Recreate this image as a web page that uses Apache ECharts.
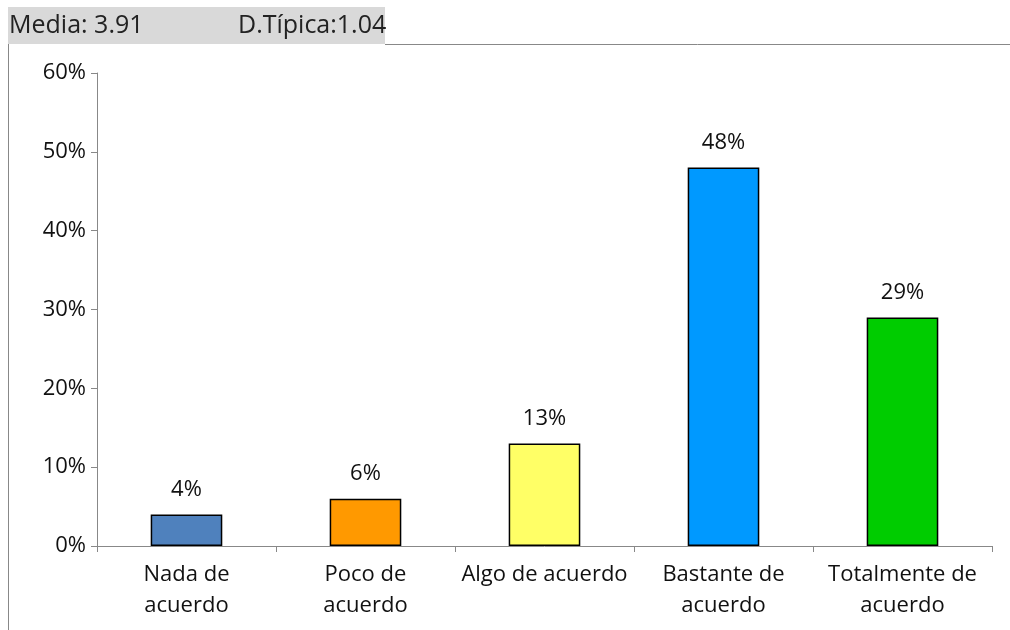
<!DOCTYPE html>
<html>
<head>
<meta charset="utf-8">
<script src="https://cdn.jsdelivr.net/npm/echarts@6/dist/echarts.min.js"></script>
<style>
  html, body { margin: 0; padding: 0; background: #fff; }
  #chart { width: 1010px; height: 630px; }
</style>
</head>
<body>
<div id="chart"></div>
<script>
// Response distribution for the agreement scale
const categories = ['Nada de\nacuerdo', 'Poco de\nacuerdo', 'Algo de acuerdo', 'Bastante de\nacuerdo', 'Totalmente de\nacuerdo'];
const percentages = [4, 6, 13, 48, 29];
const barColors = ['#4f81bd', '#ff9900', '#ffff66', '#0099ff', '#00cc00'];
const headerMean = 'Media: 3.91';
const headerSd = 'D.Típica:1.04';

const FONT = '"Open Sans", Lato, sans-serif';

const chart = echarts.init(document.getElementById('chart'), null, { renderer: 'canvas' });
chart.setOption({
  animation: false,
  backgroundColor: '#ffffff',
  textStyle: { fontFamily: FONT },
  graphic: [
    { type: 'rect', shape: { x: 8, y: 7, width: 377, height: 37 }, style: { fill: '#d9d9d9' }, silent: true },
    { type: 'text', x: 9, y: 26, style: { text: headerMean, font: '25px ' + FONT, fill: '#222', textVerticalAlign: 'middle' } },
    { type: 'text', x: 238, y: 26, style: { text: headerSd, font: '25px ' + FONT, fill: '#222', textVerticalAlign: 'middle' } },
    { type: 'line', shape: { x1: 385, y1: 44.5, x2: 1010, y2: 44.5 }, style: { stroke: '#888', lineWidth: 1 } },
    { type: 'line', shape: { x1: 8.5, y1: 44, x2: 8.5, y2: 630 }, style: { stroke: '#888', lineWidth: 1 } }
  ],
  grid: { left: 97, right: 18, top: 73, bottom: 84, containLabel: false },
  xAxis: {
    type: 'category',
    data: categories,
    axisLine: { lineStyle: { color: '#888', width: 1 } },
    axisTick: { show: true, alignWithLabel: false, length: 6, lineStyle: { color: '#888' } },
    axisLabel: { color: '#111', fontSize: 22, lineHeight: 31, margin: 13, interval: 0, fontFamily: FONT }
  },
  yAxis: {
    type: 'value',
    min: 0, max: 60, interval: 10,
    axisLine: { show: true, lineStyle: { color: '#888', width: 1 } },
    axisTick: { show: true, length: 6, lineStyle: { color: '#888' } },
    splitLine: { show: false },
    axisLabel: { color: '#111', fontSize: 22, margin: 11, formatter: '{value}%', fontFamily: FONT }
  },
  series: [{
    type: 'bar',
    barWidth: '40%',
    data: percentages.map((v, i) => ({ value: v, itemStyle: { color: barColors[i] } })),
    itemStyle: { borderColor: '#000', borderWidth: 1.5 },
    label: { show: true, position: 'top', distance: 14, formatter: '{c}%', color: '#111', fontSize: 22, fontFamily: FONT }
  }]
});
</script>
</body>
</html>
